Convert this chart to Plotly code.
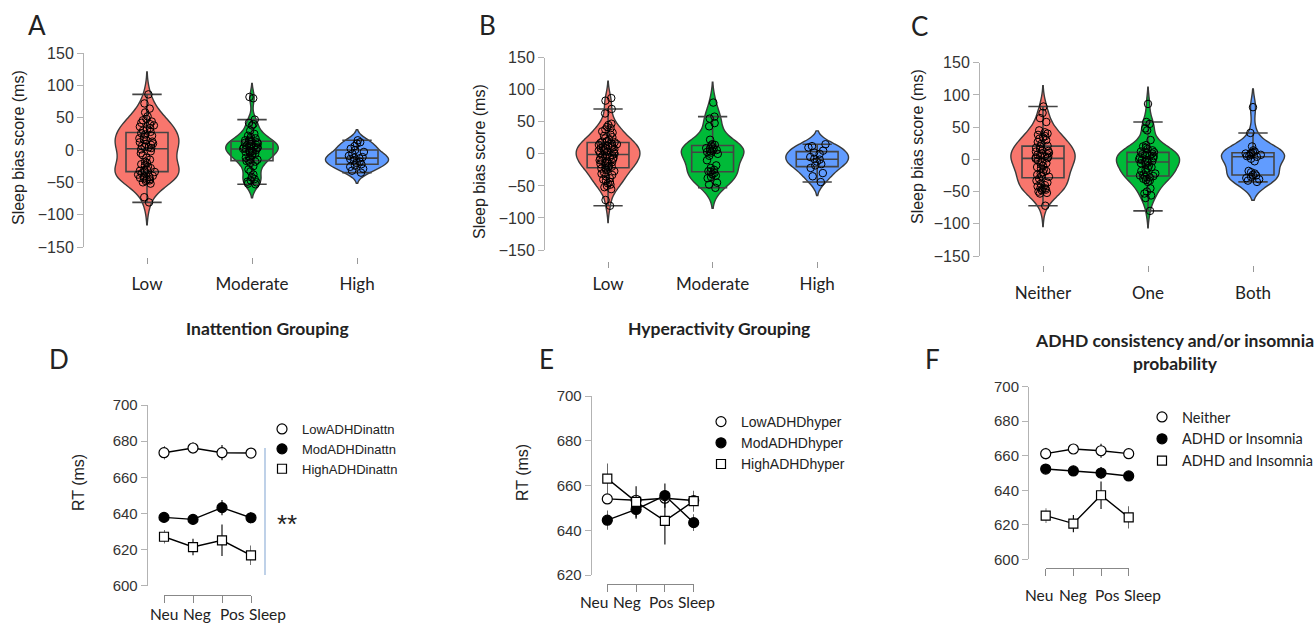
import plotly.graph_objects as go

W, H = 1315, 624


def fx(x):
    return x / W


def fy(y):
    return 1 - y / H


# ---------------- data ----------------
inatt_groups = ["Low", "Moderate", "High"]
hyper_groups = ["Low", "Moderate", "High"]
combo_groups = ["Neither", "One", "Both"]

A_low = [86, 72, 64, 58, 52, 48, 46, 44, 42, 40, 38, 36, 34, 32, 30, 28,
         26, 24, 22, 20, 18, 16, 15, 13, 12, 10, 9, 8, 6, 5, 4, 3,
         1, -2, -5, -8, -12, -15, -18, -20, -22, -24, -26, -28, -30, -31, -32, -33,
         -34, -36, -38, -40, -41, -42, -43, -44, -45, -46, -47, -48, -50, -52, -73, -81]
A_mod = [82, 80, 47, 42, 40, 38, 30, 25, 22, 20, 18, 16, 15, 14, 13, 12,
         11, 10, 9, 8, 7, 6, 5, 4, 4, 3, 2, 2, 1, 0,
         -1, -2, -3, -4, -5, -6, -8, -10, -12, -14, -15, -16, -17,
         -18, -20, -25, -30, -33, -38, -42, -45, -47, -49, -50, -52, -53]
A_high = [15, 12, 10, 6, 2, 0, -3, -6, -9, -11, -12, -13, -14, -16, -18, -20,
          -22, -24, -26, -29, -32, -35]

B_low = [87, 83, 70, 63, 47, 45, 42, 40, 38, 35, 33, 30, 28, 26, 24, 22, 20, 19, 18,
         17, 16, 15, 14, 13, 12, 11, 10, 9, 8, 7, 6, 5, 4, 3, 2, 1, 0, -1,
         -2, -3, -4, -5, -6, -7, -8, -10, -11, -12, -13, -14, -15, -16, -18, -19, -20, -21, -22,
         -23, -25, -27, -29, -31, -33, -35, -38, -40, -42, -44, -46, -48, -50, -52, -55, -72, -81]
B_mod = [80, 58, 55, 48, 43, 22, 15, 14, 13, 10, 9, 8, 7, 6, 5, 4, 3, 2, 0, -3,
         -10, -18, -22, -25, -27, -28, -30, -32, -34, -36, -38, -45, -48, -53]
B_high = [15, 12, 10, 5, 2, 0, -5, -8, -9, -12, -16, -18, -22, -30, -35, -44]

C_neither = [82, 72, 64, 58, 45, 42, 40, 38, 36, 34, 32, 30, 27, 24, 21,
             20, 18, 16, 14, 13, 12, 10, 9, 8, 7, 6, 5, 4, 3, 2,
             1, -2, -4, -6, -8, -10, -12, -14, -16, -18, -20, -22, -24, -26, -27,
             -30, -33, -36, -38, -40, -42, -44, -45, -46, -47, -48, -50, -52, -53, -72]
C_one = [86, 58, 55, 48, 45, 30, 22, 20, 18, 16, 14, 12, 11,
         10, 9, 8, 7, 6, 5, 3, 2, 0, -1, -2, -3,
         -4, -5, -6, -8, -10, -12, -14, -16, -18, -20, -22, -24, -25,
         -26, -27, -28, -30, -32, -33, -35, -45, -50, -53, -56, -60, -80]
C_both = [81, 41, 20, 14, 12, 11, 10, 9, 8, 7, 6, 5, 4, 1, -3,
          -18, -20, -22, -24, -25, -27, -29, -31, -33, -35]

conditions = ["Neu", "Neg", "Pos", "Sleep"]

D_names = ["LowADHDinattn", "ModADHDinattn", "HighADHDinattn"]
D_means = [[673.6, 676.2, 673.6, 673.4],
           [637.8, 636.7, 643.2, 637.6],
           [627.1, 621.4, 625.1, 616.8]]
D_errs = [[3.7, 3.0, 4.2, 2.0],
          [2.8, 2.8, 4.2, 3.2],
          [3.7, 4.6, 8.7, 5.4]]

E_names = ["LowADHDhyper", "ModADHDhyper", "HighADHDhyper"]
E_means = [[654.0, 653.4, 654.3, 653.3],
           [644.5, 649.3, 655.5, 643.4],
           [663.1, 652.7, 644.2, 653.0]]
E_errs = [[2.0, 2.0, 2.5, 2.5],
          [4.3, 4.2, 5.4, 3.7],
          [6.7, 7.0, 10.6, 4.7]]

F_names = ["Neither", "ADHD or Insomnia", "ADHD and Insomnia"]
F_means = [[661.2, 663.9, 662.9, 661.2],
           [652.3, 651.2, 650.0, 648.3],
           [625.3, 620.7, 637.1, 624.3]]
F_errs = [[3.5, 2.0, 4.0, 3.0],
          [2.5, 3.0, 3.5, 2.0],
          [4.3, 5.0, 8.0, 6.5]]

# ---------------- styles ----------------
VIOLIN_COLORS = ["#F8766D", "#00BA38", "#619CFF"]
ARIAL = "Liberation Sans, Arial, sans-serif"
CALIBRI = "Lato, Carlito, sans-serif"
AXIS_GREY = "#b3b3b3"
TEXT = "#222222"

fig = go.Figure()
annotations = []

top_panels = [
    dict(cats=inatt_groups, data=[A_low, A_mod, A_high], ax="", xdom=(84, 399), xr=(-0.6, 2.4),
         ydom=(53, 247), tickpos=257, standoff=6, widths=[0.61, 0.5, 0.6]),
    dict(cats=hyper_groups, data=[B_low, B_mod, B_high], ax="2", xdom=(545, 859), xr=(-0.603, 2.4),
         ydom=(57.7, 250), tickpos=261, standoff=2, widths=[0.61, 0.6, 0.6]),
    dict(cats=combo_groups, data=[C_neither, C_one, C_both], ax="3", xdom=(980, 1295), xr=(-0.6, 2.4),
         ydom=(62.7, 256), tickpos=265, standoff=7, widths=[0.61, 0.6, 0.6]),
]

layout_axes = {}
for p in top_panels:
    xa, ya = "x" + p["ax"], "y" + p["ax"]
    for i, (cat, vals) in enumerate(zip(p["cats"], p["data"])):
        fig.add_trace(go.Violin(
            x=[cat] * len(vals), y=vals, xaxis=xa, yaxis=ya,
            fillcolor=VIOLIN_COLORS[i], opacity=1,
            line=dict(color="#3a3a3a", width=1.4),
            width=p["widths"][i], points=False, showlegend=False,
            box_visible=False, meanline_visible=False, hoverinfo="y"))
    for i, (cat, vals) in enumerate(zip(p["cats"], p["data"])):
        fig.add_trace(go.Box(
            x=[cat] * len(vals), y=vals, xaxis=xa, yaxis=ya,
            fillcolor="rgba(0,0,0,0)", line=dict(color="#444444", width=1.6),
            width=0.4, whiskerwidth=0.7, boxpoints="all", jitter=0.45, pointpos=0,
            marker=dict(symbol="circle-open", color="black", size=7.5, line=dict(width=1)),
            showlegend=False, hoverinfo="y"))
    key = p["ax"]
    layout_axes["xaxis" + key] = dict(
        domain=[fx(p["xdom"][0]), fx(p["xdom"][1])], range=list(p["xr"]),
        type="category", categoryorder="array", categoryarray=p["cats"],
        anchor="free", position=fy(p["tickpos"]), side="bottom", automargin=False,
        showline=False, showgrid=False, zeroline=False, tickangle=0,
        ticks="outside", ticklen=6, tickcolor="#999999", tickwidth=1,
        tickfont=dict(family=CALIBRI, size=17, color=TEXT), ticklabelstandoff=p["standoff"])
    layout_axes["yaxis" + key] = dict(
        domain=[fy(p["ydom"][1]), fy(p["ydom"][0])], range=[-150, 150],
        anchor=xa, side="left", showline=True, linecolor=AXIS_GREY, linewidth=1,
        automargin=False, showgrid=False, zeroline=False,
        ticks="outside", ticklen=6, tickcolor=AXIS_GREY,
        tickvals=[-150, -100, -50, 0, 50, 100, 150],
        tickfont=dict(family=ARIAL, size=16, color="#333333"))

bottom_panels = [
    dict(names=D_names, means=D_means, errs=D_errs, ax="4", xdom=(164, 251), ydom=(405, 585.7),
         yaxpos=146.7, xaxpos=595, yr=[600, 700], legend="legend",
         label_y=614, label_dx=[0, 4, 10, 16]),
    dict(names=E_names, means=E_means, errs=E_errs, ax="5", xdom=(607.3, 693.7), ydom=(396, 575),
         yaxpos=590.7, xaxpos=583.7, yr=[620, 700], legend="legend2",
         label_y=602, label_dx=[-13, -9, -3, 3]),
    dict(names=F_names, means=F_means, errs=F_errs, ax="6", xdom=(1045.7, 1128.7), ydom=(386.7, 559.3),
         yaxpos=1028, xaxpos=568, yr=[600, 700], legend="legend3",
         label_y=595, label_dx=[-7, 0, 6, 14]),
]

MARKERS = [
    dict(symbol="circle", color="white", size=10, line=dict(color="black", width=1.2)),
    dict(symbol="circle", color="black", size=10, line=dict(color="black", width=1.2)),
    dict(symbol="square", color="white", size=9, line=dict(color="black", width=1.2)),
]

for p in bottom_panels:
    xa, ya = "x" + p["ax"], "y" + p["ax"]
    for m in p["means"]:
        fig.add_trace(go.Scatter(x=conditions, y=m, xaxis=xa, yaxis=ya, mode="lines",
                                 line=dict(color="black", width=1.4), showlegend=False,
                                 cliponaxis=False, hoverinfo="skip"))
    for name, m, e, mk in zip(p["names"], p["means"], p["errs"], MARKERS):
        fig.add_trace(go.Scatter(x=conditions, y=m, xaxis=xa, yaxis=ya, mode="markers",
                                 name=name, marker=mk, legend=p["legend"], cliponaxis=False,
                                 error_y=dict(type="data", array=e, visible=True,
                                              color="black", thickness=1.1, width=0)))
    key = p["ax"]
    layout_axes["xaxis" + key] = dict(
        domain=[fx(p["xdom"][0]), fx(p["xdom"][1])], range=[0, 3],
        type="category", categoryorder="array", categoryarray=conditions,
        anchor="free", position=fy(p["xaxpos"]), side="bottom", automargin=False,
        showline=True, linecolor="#888888", linewidth=1, showticklabels=False,
        showgrid=False, zeroline=False, ticks="outside", ticklen=7, tickcolor="#888888")
    layout_axes["yaxis" + key] = dict(
        domain=[fy(p["ydom"][1]), fy(p["ydom"][0])], range=p["yr"],
        anchor="free", position=fx(p["yaxpos"]), side="left", automargin=False,
        showline=True, linecolor=AXIS_GREY, linewidth=1, dtick=20,
        showgrid=False, zeroline=False, ticks="outside", ticklen=6, tickcolor=AXIS_GREY,
        tickfont=dict(family=ARIAL, size=15, color="#333333"))
    # condition labels placed at each category on the x scale
    for cond, dx in zip(conditions, p["label_dx"]):
        annotations.append(dict(
            text=cond, x=cond, xref=xa, y=fy(p["label_y"]), yref="paper",
            xshift=dx, xanchor="center", yanchor="middle", showarrow=False,
            font=dict(family=CALIBRI, size=15.5, color=TEXT)))


# ---------------- annotations ----------------
def ann(text, x, y, size, family=CALIBRI, angle=0, bold=False, color=TEXT):
    annotations.append(dict(
        text="<b>%s</b>" % text if bold else text, x=fx(x), y=fy(y), xref="paper", yref="paper",
        xanchor="center", yanchor="middle", showarrow=False, textangle=angle,
        font=dict(family=family, size=size, color=color)))


for letter, x, y in [("A", 37, 25), ("B", 487, 25), ("C", 919, 26),
                     ("D", 59, 359), ("E", 546, 359), ("F", 932, 359)]:
    ann(letter, x, y, 26)

ann("Inattention Grouping", 267, 328, 17.5, bold=True)
ann("Hyperactivity Grouping", 719, 328, 17.5, bold=True)
ann("ADHD consistency and/or insomnia<br>probability", 1174, 352, 17.5, bold=True)

ann("Sleep bias score (ms)", 18, 148, 16, family=ARIAL, angle=-90)
ann("Sleep bias score (ms)", 480, 162, 16, family=ARIAL, angle=-90)
ann("Sleep bias score (ms)", 917, 147, 16, family=ARIAL, angle=-90)
ann("RT (ms)", 78, 483, 16, family=ARIAL, angle=-90)
ann("RT (ms)", 522, 473, 16, family=ARIAL, angle=-90)
ann("**", 287, 524, 26, family=ARIAL)

shapes = [dict(type="line", xref="paper", yref="paper", x0=fx(265), x1=fx(265),
               y0=fy(448), y1=fy(575), line=dict(color="#9cb9dc", width=1.3))]

legend_common = dict(xanchor="left", yanchor="top", bgcolor="rgba(0,0,0,0)",
                     borderwidth=0, tracegroupgap=0)

fig.update_layout(
    width=W, height=H, margin=dict(l=0, r=0, t=0, b=0, autoexpand=False),
    paper_bgcolor="white", plot_bgcolor="white",
    violinmode="overlay", boxmode="overlay",
    showlegend=True,
    legend=dict(x=fx(262), y=fy(414), font=dict(family=ARIAL, size=13, color=TEXT), **legend_common),
    legend2=dict(x=fx(701), y=fy(406), font=dict(family=ARIAL, size=14, color=TEXT), **legend_common),
    legend3=dict(x=fx(1142), y=fy(401), font=dict(family=CALIBRI, size=14.5, color=TEXT), **legend_common),
    annotations=annotations, shapes=shapes,
    **layout_axes)

fig.write_html("out.html")
